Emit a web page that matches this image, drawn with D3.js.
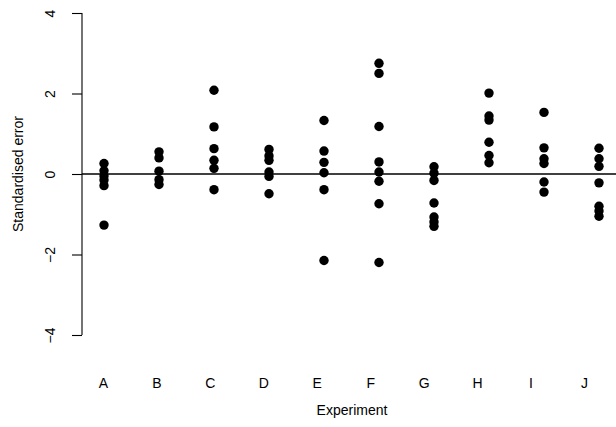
<!DOCTYPE html>
<html><head><meta charset="utf-8">
<script src="https://cdn.jsdelivr.net/npm/d3@7"></script>
<style>body{margin:0;background:#fff}text{font-family:"Liberation Sans",Arial,sans-serif;fill:#000}</style>
</head><body>
<svg id="c" width="616" height="427"></svg>
<script>
const categories = ["A","B","C","D","E","F","G","H","I","J"];
const errA = [0.26, 0.08, -0.05, -0.15, -0.29, -1.27];
const errB = [0.55, 0.40, 0.07, -0.14, -0.26];
const errC = [2.08, 1.17, 0.63, 0.34, 0.14, -0.39];
const errD = [0.61, 0.45, 0.34, 0.05, -0.06, -0.49];
const errE = [1.33, 0.57, 0.29, 0.03, -0.39, -2.15];
const errF = [2.75, 2.50, 1.18, 0.30, 0.05, -0.18, -0.74, -2.20];
const errG = [0.18, 0.02, -0.16, -0.72, -1.07, -1.19, -1.30];
const errH = [2.01, 1.44, 1.34, 0.79, 0.46, 0.28];
const errI = [1.53, 0.65, 0.38, 0.26, -0.20, -0.45];
const errJ = [0.64, 0.38, 0.19, -0.22, -0.80, -0.92, -1.05];
const yTicks = [-4, -2, 0, 2, 4];
const series = [errA, errB, errC, errD, errE, errF, errG, errH, errI, errJ];

const FS = 14;
const svg = d3.select("#c");
const y = d3.scaleLinear().domain([-4, 4]).range([335, 13]);
const xPts = d3.scalePoint().domain(categories).range([104, 599]);
const xLab = d3.scalePoint().domain(categories).range([103, 584]);

// reference line at 0
svg.append("line").attr("x1", 82).attr("x2", 616)
  .attr("y1", y(0)).attr("y2", y(0)).attr("stroke", "#000").attr("stroke-width", 1.3);

// y axis
const yAxis = svg.append("g").attr("transform", "translate(82,0)")
  .call(d3.axisLeft(y).tickValues(yTicks).tickSize(10).tickFormat(d => String(d).replace("-", "\u2212")));
yAxis.select(".domain").attr("stroke", "#000").attr("stroke-width", 1.1).attr("d", `M-0,${y(4)}V${y(-4)}`);
yAxis.selectAll(".tick line").attr("stroke", "#000").attr("stroke-width", 1.1);
yAxis.selectAll(".tick text").attr("font-size", FS).attr("fill", "#000")
  .attr("font-family", '"Liberation Sans",Arial,sans-serif')
  .attr("transform", "rotate(-90)").attr("x", 0).attr("dy", 0)
  .attr("y", -27).attr("text-anchor", "middle");

// x labels
const xAxis = svg.append("g").attr("transform", "translate(0,388)")
  .call(d3.axisBottom(xLab).tickSize(0).tickPadding(0));
xAxis.select(".domain").remove();
xAxis.selectAll(".tick text").attr("font-size", FS).attr("fill", "#000").attr("dy", 0)
  .attr("font-family", '"Liberation Sans",Arial,sans-serif');

// titles
svg.append("text").attr("x", 352).attr("y", 415).attr("text-anchor", "middle")
  .attr("font-size", FS).text("Experiment");
svg.append("text").attr("transform", `translate(23,${y(0)}) rotate(-90)`)
  .attr("text-anchor", "middle").attr("font-size", FS).text("Standardised error");

// points
const pts = [];
series.forEach((s, i) => s.forEach(v => pts.push({c: categories[i], v})));
svg.append("g").selectAll("circle").data(pts).join("circle")
  .attr("cx", d => xPts(d.c)).attr("cy", d => y(d.v)).attr("r", 4.7).attr("fill", "#000");
</script>
</body></html>
